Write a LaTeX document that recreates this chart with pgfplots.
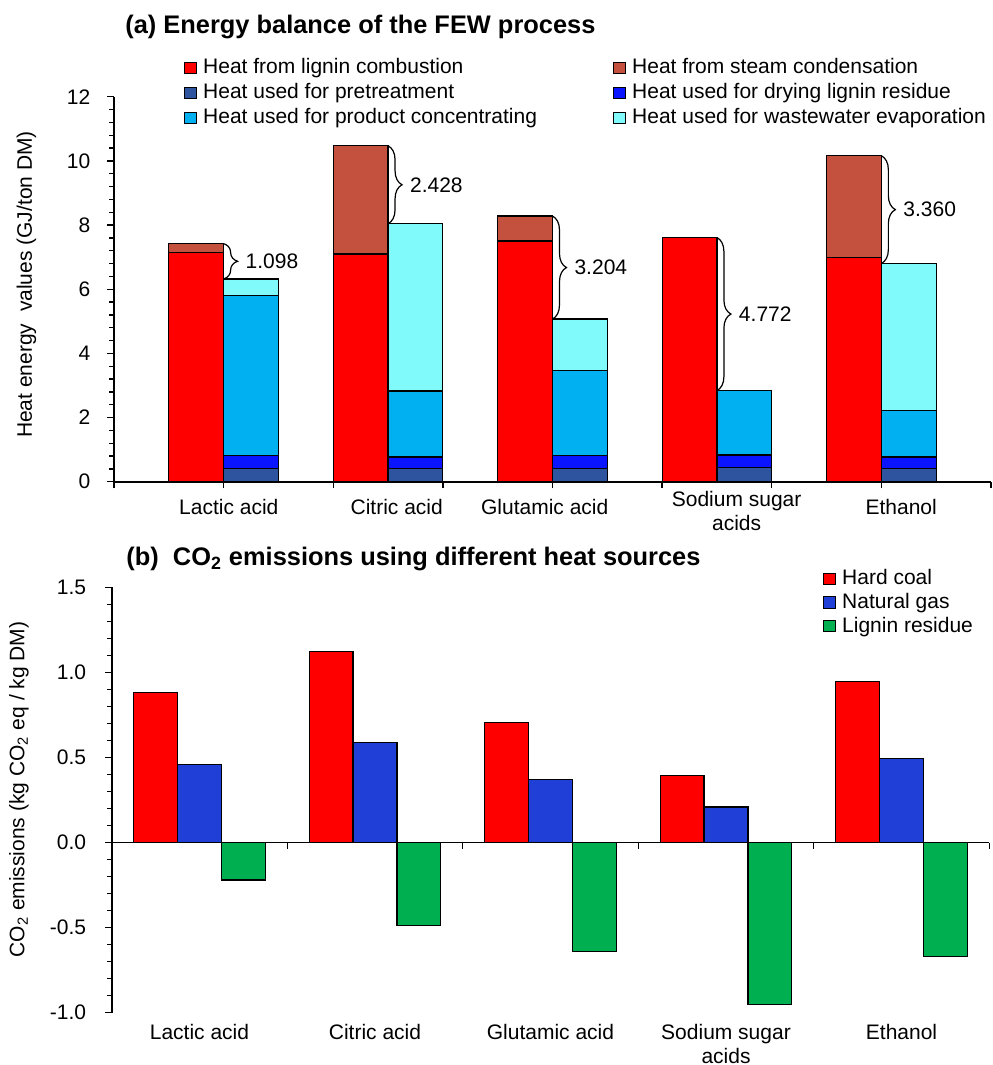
\documentclass[border=0pt]{standalone}
\usepackage{pgfplots}
\pgfplotsset{compat=1.18}
\usepackage{pgfplotstable}
\usepackage{fontspec}
\setmainfont{Liberation Sans}
\usetikzlibrary{decorations.pathreplacing}

\definecolor{cLig}{HTML}{FF0000}
\definecolor{cSteam}{HTML}{C4503E}
\definecolor{cPre}{HTML}{2E54A0}
\definecolor{cDry}{HTML}{0A14FF}
\definecolor{cProd}{HTML}{00B0F0}
\definecolor{cWaste}{HTML}{80FAFA}
\definecolor{cCoal}{HTML}{FF0000}
\definecolor{cGas}{HTML}{1F3FD6}
\definecolor{cLres}{HTML}{00B050}

\pgfplotstableread{
x    lig   steam pre  dry  prod waste
0.75 7.14  0.28  0    0    0    0
1.25 0     0     0.42 0.39 4.99 0.52
2.25 7.10  3.37  0    0    0    0
2.75 0     0     0.40 0.37 2.06 5.21
3.75 7.50  0.78  0    0    0    0
4.25 0     0     0.40 0.41 2.65 1.61
5.25 7.61  0     0    0    0    0
5.75 0     0     0.44 0.39 2.01 0
6.75 6.98  3.18  0    0    0    0
7.25 0     0     0.40 0.37 1.46 4.57
}\topdata

\pgfplotstableread{
x    val
0.25 0.881
1.25 1.122
2.25 0.704
3.25 0.395
4.25 0.945
}\coal
\pgfplotstableread{
x    val
0.5  0.461
1.5  0.589
2.5  0.369
3.5  0.209
4.5  0.493
}\gas
\pgfplotstableread{
x    val
0.75 -0.220
1.75 -0.487
2.75 -0.642
3.75 -0.953
4.75 -0.671
}\lres

\newcommand{\fs}{\fontsize{10.5}{12.6}\selectfont}

\begin{document}
\begin{tikzpicture}
\path[use as bounding box] (0,0) rectangle (496pt,-532.5pt);

% titles and y labels
\node[anchor=base west, inner sep=0pt, font=\fontsize{12.7}{15}\selectfont\bfseries] at (62.5pt,-16.6pt) {(a) Energy balance of the FEW process};
\node[anchor=base west, inner sep=0pt, font=\fontsize{12.7}{15}\selectfont\bfseries] at (63pt,-282.5pt) {(b)\ \ CO\textsubscript{2} emissions using different heat sources};
\node[rotate=90, anchor=base, inner sep=0pt, font=\fs] at (16pt,-142.25pt) {Heat energy\ \ values (GJ/ton DM)};
\node[rotate=90, anchor=base, inner sep=0pt, font=\fs] at (12.25pt,-394.75pt) {CO\textsubscript{2} emissions (kg CO\textsubscript{2} eq / kg DM)};

\begin{axis}[
  at={(57pt,-240.85pt)}, anchor=south west,
  scale only axis, width=438.5pt, height=192.5pt,
  xmin=0, xmax=8, ymin=0, ymax=12,
  axis lines=left, axis line style={-, line width=0.8pt},
  xtick={0,...,8}, xticklabels={},
  ytick={0,2,4,6,8,10,12}, yticklabels={0,2,4,6,8,10,12},
  minor y tick num=4,
  tick align=outside, major tick length=3.3pt, minor tick length=2.3pt,
  tick style={black, line width=0.7pt},
  yticklabel style={font=\fs, xshift=-5pt},
  ybar stacked, bar width=0.5,
  legend image code/.code={\draw[#1, draw=black, line width=0.5pt] (0pt,-2.8pt) rectangle (5.6pt,2.8pt);},
  legend columns=2, legend cell align=left,
  legend style={at={(0.0798,1.108)}, anchor=north west, draw=none, fill=none, inner sep=0pt,
    nodes={inner xsep=3.3pt, inner ysep=1.5pt, text height=7.6pt, text depth=1.9pt, font=\fs}},
  clip=false,
  font=\fs,
]
\addplot[fill=cLig, draw=black, line width=0.6pt] table[x=x, y=lig] {\topdata};
\addlegendentry{\makebox[201.8pt][l]{Heat from lignin combustion}}
\addplot[fill=cSteam, draw=black, line width=0.6pt] table[x=x, y=steam] {\topdata};
\addlegendentry{Heat from steam condensation}
\addplot[fill=cPre, draw=black, line width=0.6pt] table[x=x, y=pre] {\topdata};
\addlegendentry{\makebox[201.8pt][l]{Heat used for pretreatment}}
\addplot[fill=cDry, draw=black, line width=0.6pt] table[x=x, y=dry] {\topdata};
\addlegendentry{Heat used for drying lignin residue}
\addplot[fill=cProd, draw=black, line width=0.6pt] table[x=x, y=prod] {\topdata};
\addlegendentry{\makebox[201.8pt][l]{Heat used for product concentrating}}
\addplot[fill=cWaste, draw=black, line width=0.6pt] table[x=x, y=waste] {\topdata};
\addlegendentry{Heat used for wastewater evaporation}

% braces
\foreach \c/\a/\b/\t in {1/7.42/6.32/1.098, 2.5/10.47/8.04/2.428, 4/8.28/5.07/3.204, 5.5/7.61/2.84/4.772, 7/10.16/6.80/3.360}{
  \edef\tmp{\noexpand\draw[decorate, decoration={brace, amplitude=7pt}, line width=0.6pt] (axis cs:\c,\a) -- (axis cs:\c,\b) node[midway, right=7.4pt, font=\noexpand\fs] {\t};}
  \tmp
}

% category labels
\node[anchor=base, font=\fs] at (axis cs:1.047,0) [yshift=-16.15pt] {Lactic acid};
\node[anchor=base, font=\fs] at (axis cs:2.579,0) [yshift=-16.15pt] {Citric acid};
\node[anchor=base, font=\fs] at (axis cs:3.929,0) [yshift=-16.15pt] {Glutamic acid};
\node[anchor=base, font=\fs] at (axis cs:5.680,0) [yshift=-12.5pt] {Sodium sugar};
\node[anchor=base, font=\fs] at (axis cs:5.680,0) [yshift=-24.5pt] {acids};
\node[anchor=base, font=\fs] at (axis cs:7.181,0) [yshift=-16.15pt] {Ethanol};
\end{axis}

\begin{axis}[
  at={(55.85pt,-506.35pt)}, anchor=south west,
  scale only axis, width=438.8pt, height=212.7pt,
  xmin=0, xmax=5, ymin=-1, ymax=1.5,
  axis y line=left, axis x line=middle, axis line style={-, line width=0.8pt},
  xtick={0,...,5}, xticklabels={},
  ytick={-1,-0.5,0,0.5,1,1.5}, yticklabels={-1.0,-0.5,0.0,0.5,1.0,1.5},
  minor y tick num=4,
  tick align=outside, major tick length=3.3pt, minor tick length=2.3pt,
  tick style={black, line width=0.7pt},
  yticklabel style={font=\fs, xshift=-6pt},
  ybar, bar width=0.25,
  legend image code/.code={\draw[#1, draw=black, line width=0.5pt] (0pt,-2.8pt) rectangle (5.6pt,2.8pt);},
  legend cell align=left,
  legend style={at={(0.8105,1.0490)}, anchor=north west, draw=none, fill=none, inner sep=0pt,
    nodes={inner xsep=3.3pt, inner ysep=1.2pt, text height=7.6pt, text depth=1.9pt, font=\fs}},
  clip=false,
  font=\fs,
]
\addplot[fill=cCoal, draw=black, line width=0.6pt, bar shift=0pt] table[x=x, y=val] {\coal};
\addlegendentry{Hard coal}
\addplot[fill=cGas, draw=black, line width=0.6pt, bar shift=0pt] table[x=x, y=val] {\gas};
\addlegendentry{Natural gas}
\addplot[fill=cLres, draw=black, line width=0.6pt, bar shift=0pt] table[x=x, y=val] {\lres};
\addlegendentry{Lignin residue}

\node[anchor=base, font=\fs] at (axis cs:0.5,-1) [yshift=-13.15pt] {Lactic acid};
\node[anchor=base, font=\fs] at (axis cs:1.5,-1) [yshift=-13.15pt] {Citric acid};
\node[anchor=base, font=\fs] at (axis cs:2.5,-1) [yshift=-13.15pt] {Glutamic acid};
\node[anchor=base, font=\fs] at (axis cs:3.5,-1) [yshift=-13.15pt] {Sodium sugar};
\node[anchor=base, font=\fs] at (axis cs:3.5,-1) [yshift=-25.15pt] {acids};
\node[anchor=base, font=\fs] at (axis cs:4.5,-1) [yshift=-13.15pt] {Ethanol};
\end{axis}
\end{tikzpicture}
\end{document}
